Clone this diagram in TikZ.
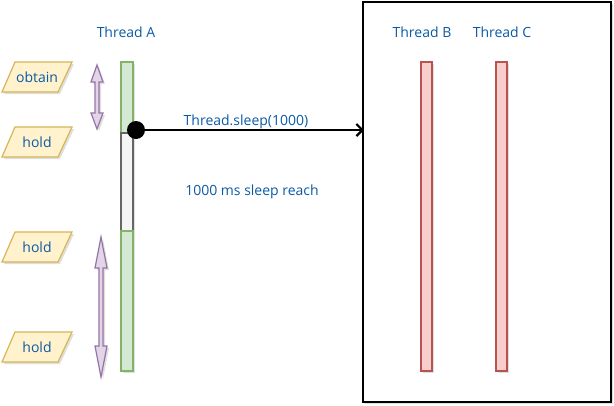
\documentclass[tikz,border=0pt]{standalone}
\usepackage{fontspec}
\setmainfont{Open Sans}
\usetikzlibrary{shadows,arrows.meta}
\definecolor{txtblue}{HTML}{0B5AA6}
\definecolor{gfill}{HTML}{D5E8D4}
\definecolor{gdraw}{HTML}{82B366}
\definecolor{rfill}{HTML}{F8CECC}
\definecolor{rdraw}{HTML}{B85450}
\definecolor{yfill}{HTML}{FFF2CC}
\definecolor{ydraw}{HTML}{D6B656}
\definecolor{pfill}{HTML}{E1D5E7}
\definecolor{pdraw}{HTML}{9673A6}
\definecolor{wfill}{HTML}{F5F5F5}
\definecolor{wdraw}{HTML}{666666}
\tikzset{
  shad/.style={drop shadow={opacity=0.25,shadow xshift=2pt,shadow yshift=-2pt}},
  lbl/.style={text=txtblue,font=\fontsize{14}{16}\selectfont,inner sep=0pt},
  gbar/.style={fill=gfill,draw=gdraw,line width=1.2pt,shad},
  rbar/.style={fill=rfill,draw=rdraw,line width=1.2pt,shad},
  wbar/.style={fill=wfill,draw=wdraw,line width=1.2pt,shad},
  para/.style={fill=yfill,draw=ydraw,line width=1.2pt,shad},
  parr/.style={fill=pfill,draw=pdraw,line width=1.2pt,shad},
}
\begin{document}
\begin{tikzpicture}[x=1pt,y=-1pt]
\useasboundingbox (0,0) rectangle (614,405);
% big box
\draw[line width=1.5pt,fill=white,shad] (363,2) rectangle (611,402);
% Thread A bars
\draw[gbar] (121,62) rectangle (133,133);
\draw[wbar] (121,133) rectangle (133,231);
\draw[gbar] (121,231) rectangle (133,371);
% Thread B, C bars
\draw[rbar] (421,62) rectangle (432,371);
\draw[rbar] (496,62) rectangle (507,371);
% labels
\node[lbl] (ta) at (126,32) {Thread A};
\node[lbl] (tb) at (422,32) {Thread B};
\node[lbl] (tc) at (502,32) {Thread C};
% parallelograms
\draw[para] (2,92) -- (15,62) -- (72,62) -- (58,92) -- cycle;
\node[lbl] (ob) at (37,77) {obtain};
\draw[para] (2,157) -- (15,127) -- (72,127) -- (58,157) -- cycle;
\node[lbl] (h1) at (37,142) {hold};
\draw[para] (2,262) -- (15,232) -- (72,232) -- (58,262) -- cycle;
\node[lbl] (h2) at (37,247) {hold};
\draw[para] (2,362) -- (15,332) -- (72,332) -- (58,362) -- cycle;
\node[lbl] (h3) at (37,347) {hold};
% purple double arrows
\draw[parr] (97,65) -- (103,82) -- (99,82) -- (99,113) -- (103,113) -- (97,129) -- (91,113) -- (95,113) -- (95,82) -- (91,82) -- cycle;
\draw[parr] (101,237) -- (107,268) -- (103,268) -- (103,346) -- (107,346) -- (101,377) -- (95,346) -- (99,346) -- (99,268) -- (95,268) -- cycle;
% sleep arrow
\node[circle,fill=black,minimum size=18pt,inner sep=0pt] (dot) at (136,130) {};
\coordinate (tgt) at (364,130);
\draw[line width=2.2pt,-{Straight Barb[length=6pt,width=12pt]}] (dot.center) -- (tgt);
\node[lbl] (sl) at (246,122) {Thread.sleep(1000)};
\node[lbl] (re) at (252,192) {1000 ms sleep reach};
\end{tikzpicture}
\end{document}
